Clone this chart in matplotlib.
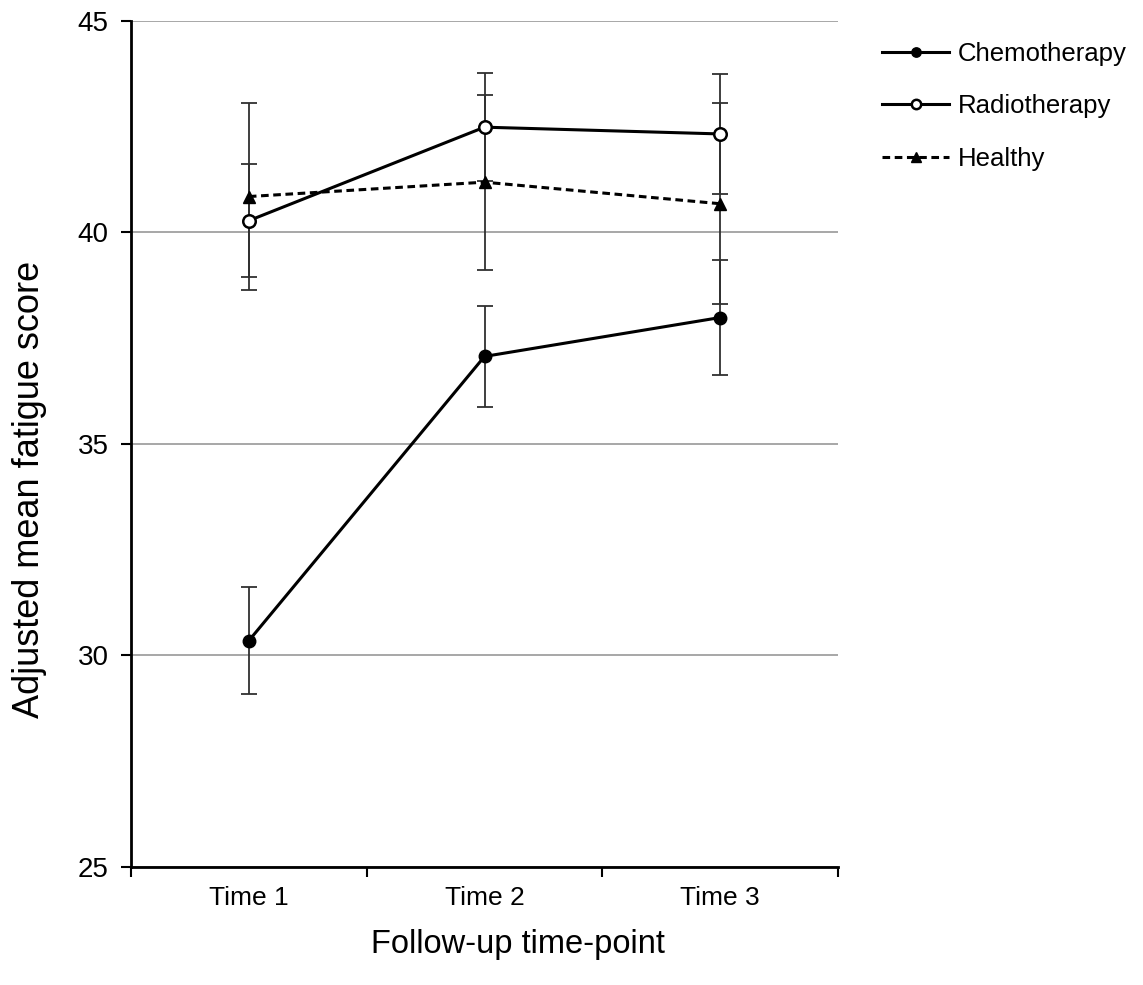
import numpy as np
import matplotlib
matplotlib.use('Agg')
from matplotlib import pyplot as plt

plt.rcParams['font.family'] = ['Liberation Sans', 'DejaVu Sans']

time_points = ['Time 1', 'Time 2', 'Time 3']

chemo_mean = [30.35, 37.07, 37.99]
chemo_err = [1.27, 1.20, 1.36]

radio_mean = [40.28, 42.49, 42.33]
radio_err = [1.33, 1.28, 1.42]

healthy_mean = [40.85, 41.19, 40.68]
healthy_err = [2.20, 2.07, 2.38]

x = np.arange(len(time_points))

fig = plt.figure(figsize=(11.43, 9.85), dpi=100)
ax = fig.add_axes([131/1143, 1-867/985, (838-131)/1143, (867-21)/985])

# gridlines
ax.set_ylim(25, 45)
ax.set_xlim(-0.5, 2.5)
ax.set_yticks([25, 30, 35, 40, 45])
ax.yaxis.grid(True, color='#a0a0a0', linewidth=1.3)
ax.set_axisbelow(True)

# error bars first
for m, e in [(healthy_mean, healthy_err), (radio_mean, radio_err), (chemo_mean, chemo_err)]:
    ax.errorbar(x, m, yerr=e, fmt='none', ecolor='#303030', elinewidth=1.3,
                capsize=6, capthick=1.3, zorder=2)

l_chemo, = ax.plot(x, chemo_mean, color='black', lw=2.2, marker='o', ms=9,
                   mfc='black', mec='black', zorder=4, label='Chemotherapy')
l_radio, = ax.plot(x, radio_mean, color='black', lw=2.2, marker='o', ms=9,
                   mfc='white', mec='black', mew=1.8, zorder=4, label='Radiotherapy')
l_healthy, = ax.plot(x, healthy_mean, color='black', lw=2.2, ls=(0, (2.5, 1.5)),
                     marker='^', ms=9, mfc='black', mec='black', zorder=3,
                     label='Healthy')

# axes styling
for s in ['top', 'right']:
    ax.spines[s].set_visible(False)
for s in ['left', 'bottom']:
    ax.spines[s].set_linewidth(2)
    ax.spines[s].set_color('black')

ax.set_xticks([-0.5, 0.5, 1.5, 2.5])
ax.set_xticklabels([])
ax.set_xticks(x, minor=True)
ax.set_xticklabels(time_points, minor=True)
ax.tick_params(axis='x', which='major', direction='out', length=7, width=1.5)
ax.tick_params(axis='x', which='minor', length=0, labelsize=19, pad=14)
ax.tick_params(axis='y', direction='out', length=7, width=1.5, labelsize=20, pad=9)

# axis titles placed as figure text to match the reference offsets
fig.text(518/1143, 1-945/985, 'Follow-up time-point', fontsize=23.5,
         ha='center', va='center')
fig.text(30/1143, 1-489/985, 'Adjusted mean fatigue score', fontsize=26,
         ha='center', va='center', rotation=90)

fig.legend(handles=[l_chemo, l_radio, l_healthy], loc='upper left',
           bbox_to_anchor=(859/1143, 1-19/985), frameon=False, fontsize=18.5,
           handlelength=2.6, handletextpad=0.35, labelspacing=1.1, markerscale=0.75)

fig.savefig('out.png', dpi=100)
